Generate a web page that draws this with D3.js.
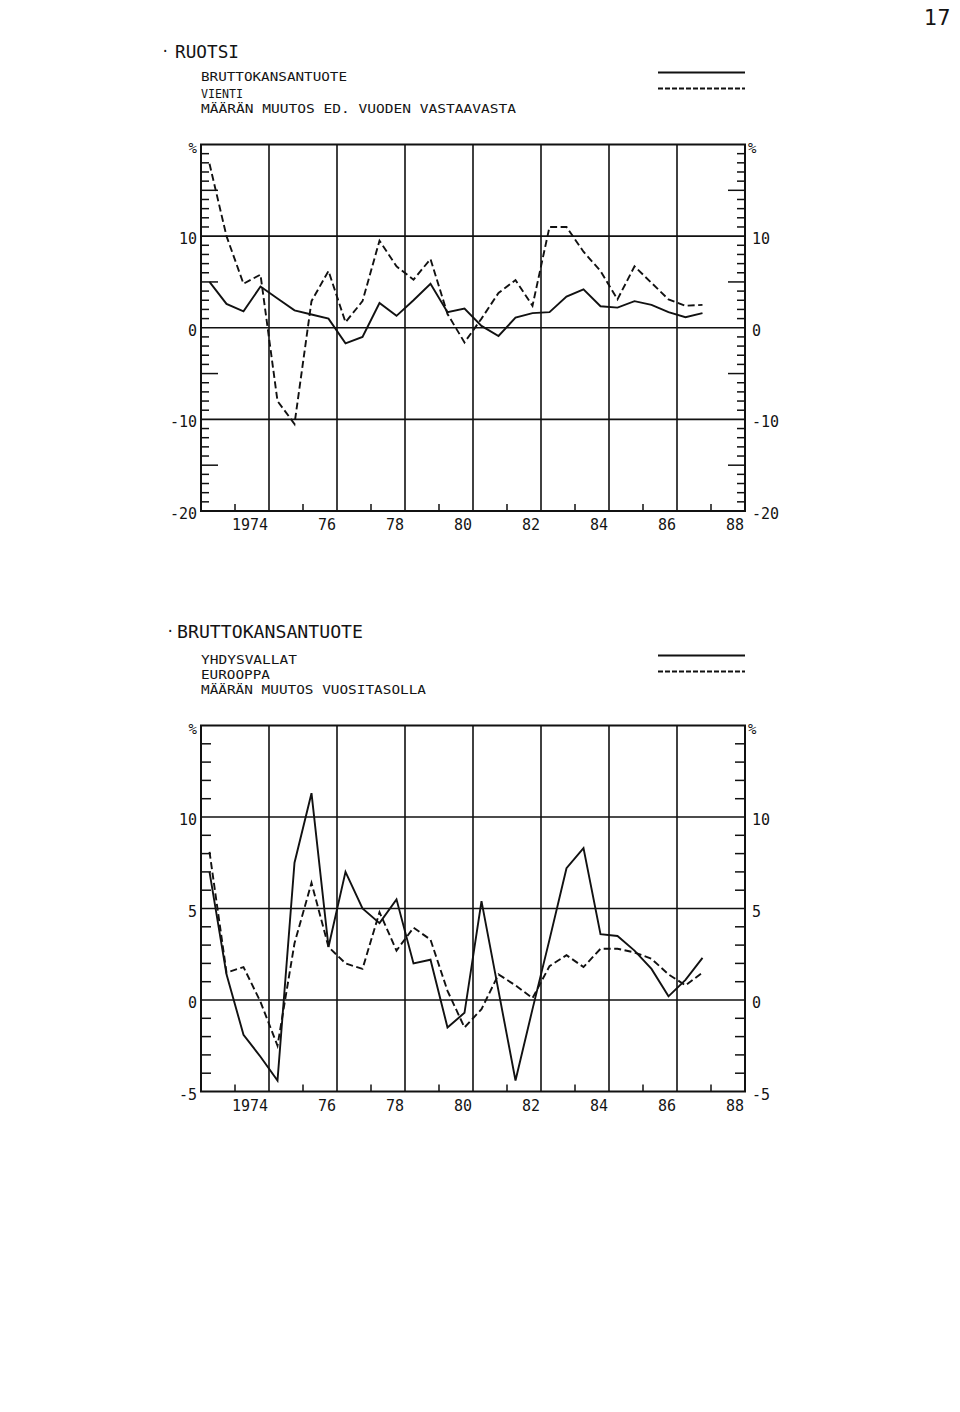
<!DOCTYPE html>
<html>
<head>
<meta charset="utf-8">
<script src="https://cdn.jsdelivr.net/npm/d3@7"></script>
<style>
  body { margin: 0; background: #fff; }
  text { font-family: "DejaVu Sans Mono", monospace; fill: #141414; }
</style>
</head>
<body>
<script>
// half-year observations, plotted at the middle of each half year
const periods = [
  1973.25, 1973.75, 1974.25, 1974.75, 1975.25, 1975.75, 1976.25, 1976.75,
  1977.25, 1977.75, 1978.25, 1978.75, 1979.25, 1979.75, 1980.25, 1980.75,
  1981.25, 1981.75, 1982.25, 1982.75, 1983.25, 1983.75, 1984.25, 1984.75,
  1985.25, 1985.75, 1986.25, 1986.75, 1987.25, 1987.75
];

// RUOTSI: bruttokansantuote (solid), vienti (dashed)
const ruotsiBkt = [
  5.0, 2.6, 1.8, 4.5, 3.2, 1.9, 1.45, 1.0,
  -1.7, -1.0, 2.7, 1.3, 3.0, 4.8, 1.7, 2.1,
  0.2, -0.9, 1.1, 1.6, 1.7, 3.4, 4.2, 2.35,
  2.2, 2.9, 2.5, 1.7, 1.15, 1.6
];
const ruotsiVienti = [
  17.9, 10.0, 4.8, 5.8, -8.0, -10.5, 2.9, 6.2,
  0.6, 2.9, 9.5, 6.7, 5.25, 7.5, 1.5, -1.6,
  1.0, 3.8, 5.2, 2.4, 11.0, 11.0, 8.3, 6.2,
  3.1, 6.7, 4.9, 3.1, 2.4, 2.5
];

// BRUTTOKANSANTUOTE: Yhdysvallat (solid), Eurooppa (dashed)
const usaBkt = [
  7.0, 1.4, -1.9, -3.1, -4.4, 7.5, 11.3, 2.9,
  7.0, 5.0, 4.2, 5.5, 2.0, 2.2, -1.5, -0.7,
  5.4, 0.5, -4.4, -0.5, 3.3, 7.2, 8.3, 3.6,
  3.5, 2.7, 1.7, 0.2, 1.1, 2.3
];
const euroopBkt = [
  8.1, 1.5, 1.8, -0.1, -2.5, 3.1, 6.4, 2.9,
  2.0, 1.7, 4.8, 2.7, 3.95, 3.3, 0.5, -1.5,
  -0.5, 1.4, 0.8, 0.1, 1.85, 2.45, 1.8, 2.8,
  2.8, 2.6, 2.25, 1.4, 0.8, 1.5
];

const yearTicks = [1974, 1976, 1978, 1980, 1982, 1984, 1986, 1988];
const yearLabels = ["1974", "76", "78", "80", "82", "84", "86", "88"];
const gridYears = [1975, 1977, 1979, 1981, 1983, 1985, 1987];

const grid1 = [10, 0, -10];
const labels1 = [10, 0, -10, -20];
const major1 = [15, 5, -5, -15];

const grid2 = [10, 5, 0];
const labels2 = [10, 5, 0, -5];

const width = 960, height = 1412;
const left = 201, right = 745;

const svg = d3.select("body").append("svg")
  .attr("width", width)
  .attr("height", height)
  .style("background", "#fff");

const x = d3.scaleLinear().domain([1973, 1989]).range([left, right]);

// page number
svg.append("text").attr("x", 924).attr("y", 25)
  .style("font-family", "DejaVu Sans").style("font-size", "21px").text("17");

function header(h) {
  svg.append("text").attr("x", h.dotX).attr("y", h.titleY - 2)
    .style("font-size", "14px").text("·");
  svg.append("text").attr("x", h.titleX).attr("y", h.titleY)
    .style("font-size", "18px")
    .attr("textLength", h.titleW).attr("lengthAdjust", "spacingAndGlyphs")
    .text(h.title);
  h.lines.forEach(function(l, i) {
    svg.append("text").attr("x", 201).attr("y", h.lineY[i])
      .style("font-size", "12.5px")
      .attr("textLength", h.lineW[i]).attr("lengthAdjust", "spacingAndGlyphs")
      .text(l);
  });
  svg.append("line").attr("x1", 658).attr("x2", 745)
    .attr("y1", h.legendY[0]).attr("y2", h.legendY[0])
    .attr("stroke", "#111").attr("stroke-width", 1.8);
  svg.append("line").attr("x1", 658).attr("x2", 745)
    .attr("y1", h.legendY[1]).attr("y2", h.legendY[1])
    .attr("stroke", "#111").attr("stroke-width", 1.8)
    .attr("stroke-dasharray", "5,2");
}

function panel(p) {
  const y = d3.scaleLinear().domain(p.domain).range([p.bottom, p.top]);
  const g = svg.append("g");

  // horizontal grid
  g.selectAll(".hg").data(p.grid).enter().append("line")
    .attr("x1", left).attr("x2", right)
    .attr("y1", d => y(d)).attr("y2", d => y(d))
    .attr("stroke", "#111").attr("stroke-width", 1.6);

  // vertical grid
  g.selectAll(".vg").data(gridYears).enter().append("line")
    .attr("x1", d => x(d)).attr("x2", d => x(d))
    .attr("y1", p.top).attr("y2", p.bottom)
    .attr("stroke", "#111").attr("stroke-width", 1.6);

  // side ticks, inward
  const ticks = d3.range(p.domain[0] + p.step, p.domain[1], p.step)
    .filter(v => p.grid.indexOf(v) < 0);
  ticks.forEach(function(v) {
    const len = p.major.indexOf(v) >= 0 ? 17 : p.minorLen;
    g.append("line").attr("x1", left).attr("x2", left + len)
      .attr("y1", y(v)).attr("y2", y(v))
      .attr("stroke", "#111").attr("stroke-width", 1.5);
    g.append("line").attr("x1", right).attr("x2", right - len)
      .attr("y1", y(v)).attr("y2", y(v))
      .attr("stroke", "#111").attr("stroke-width", 1.5);
  });

  // bottom ticks
  g.selectAll(".bt").data(yearTicks).enter().append("line")
    .attr("x1", d => x(d)).attr("x2", d => x(d))
    .attr("y1", p.bottom).attr("y2", p.bottom - 7)
    .attr("stroke", "#111").attr("stroke-width", 1.5);

  // frame
  g.append("rect").attr("x", left).attr("y", p.top)
    .attr("width", right - left).attr("height", p.bottom - p.top)
    .attr("fill", "none").attr("stroke", "#111").attr("stroke-width", 2);

  // year labels
  g.selectAll(".yl").data(yearTicks).enter().append("text")
    .attr("x", d => x(d + 1) - 1).attr("y", p.bottom + 19)
    .attr("text-anchor", "end").style("font-size", "15px")
    .text((d, i) => yearLabels[i]);

  // value labels, both sides
  p.labels.forEach(function(v) {
    g.append("text").attr("x", left - 4).attr("y", y(v) + 8)
      .attr("text-anchor", "end").style("font-size", "15px").text(String(v));
    g.append("text").attr("x", right + 7).attr("y", y(v) + 8)
      .style("font-size", "15px").text(String(v));
  });
  g.append("text").attr("x", left - 4).attr("y", p.top + 8)
    .attr("text-anchor", "end").style("font-size", "14px").text("%");
  g.append("text").attr("x", right + 3).attr("y", p.top + 8)
    .style("font-size", "14px").text("%");

  const line = d3.line()
    .x((d, i) => x(periods[i]))
    .y(d => y(d));

  g.append("path").datum(p.solid)
    .attr("d", line).attr("fill", "none")
    .attr("stroke", "#111").attr("stroke-width", 1.9)
    .attr("stroke-linejoin", "miter");
  g.append("path").datum(p.dashed)
    .attr("d", line).attr("fill", "none")
    .attr("stroke", "#111").attr("stroke-width", 1.9)
    .attr("stroke-dasharray", "7,3.5");
}

header({
  dotX: 161, titleX: 175, titleY: 58, titleW: 64, title: "RUOTSI",
  lines: ["BRUTTOKANSANTUOTE", "VIENTI", "MÄÄRÄN MUUTOS ED. VUODEN VASTAAVASTA"],
  lineY: [81, 97.5, 112.5],
  lineW: [146, 42, 315],
  legendY: [72.5, 88.5]
});

panel({
  domain: [-20, 20], top: 144.5, bottom: 511,
  grid: grid1, labels: labels1, major: major1, step: 1, minorLen: 8,
  solid: ruotsiBkt, dashed: ruotsiVienti
});

header({
  dotX: 166, titleX: 177, titleY: 638, titleW: 186, title: "BRUTTOKANSANTUOTE",
  lines: ["YHDYSVALLAT", "EUROOPPA", "MÄÄRÄN MUUTOS VUOSITASOLLA"],
  lineY: [664, 679, 694],
  lineW: [96, 69, 225],
  legendY: [655.5, 671.5]
});

panel({
  domain: [-5, 15], top: 725.5, bottom: 1091.5,
  grid: grid2, labels: labels2, major: [], step: 1, minorLen: 10,
  solid: usaBkt, dashed: euroopBkt
});
</script>
</body>
</html>
